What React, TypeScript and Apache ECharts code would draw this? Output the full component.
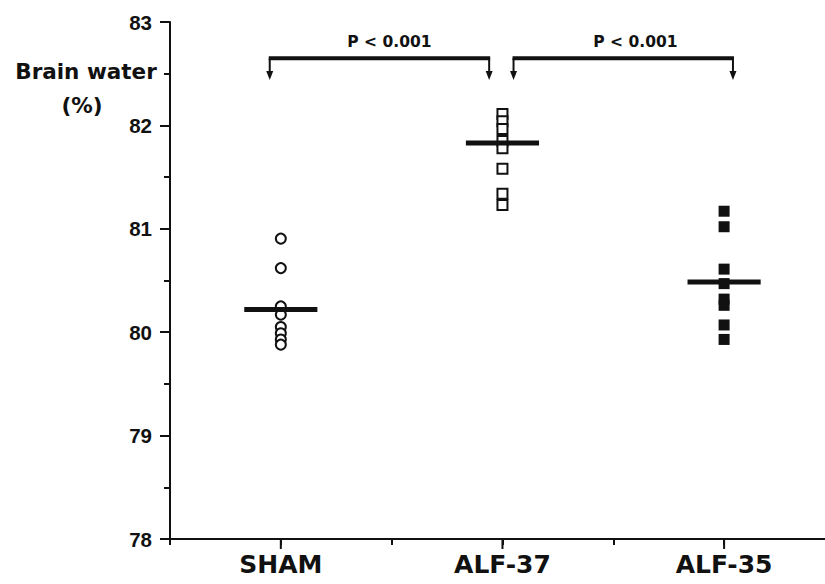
import React, { useEffect, useRef } from 'react';
import * as echarts from 'echarts';

const categories = ['SHAM', 'ALF-37', 'ALF-35'];
const shamValues = [80.905, 80.62, 80.25, 80.17, 80.05, 79.99, 79.93, 79.88];
const alf37Values = [82.11, 82.04, 81.965, 81.85, 81.78, 81.58, 81.34, 81.23];
const alf35Values = [81.17, 81.02, 80.61, 80.47, 80.32, 80.26, 80.07, 79.93];
const meanValues = [80.22, 81.83, 80.485];
const comparisons = [
  { from: 0.95, to: 1.94, labelAt: 1.49, label: 'P < 0.001' },
  { from: 2.05, to: 3.04, labelAt: 2.6, label: 'P < 0.001' },
];
const bracketY = 82.65;
const arrowTipY = 82.44;
const labelY = 82.81;

const INK = '#111';

export default function App() {
  const ref = useRef<HTMLDivElement>(null);
  useEffect(() => {
    if (!ref.current) return;
    const chart = echarts.init(ref.current, undefined, { renderer: 'svg' });
    const option: any = {
      animation: false,
      backgroundColor: '#fff',
      grid: { left: 170, right: -21, top: 22, bottom: 45, outerBoundsMode: 'none', containLabel: false },
      xAxis: {
        type: 'value',
        min: 0.5,
        max: 3.55,
        interval: 0.5,
        splitLine: { show: false },
        axisLine: { show: true, lineStyle: { color: INK, width: 2 } },
        axisTick: { show: true, length: 6, lineStyle: { color: INK, width: 2 } },
        axisLabel: {
          margin: 13,
          fontFamily: 'DejaVu Sans',
          fontWeight: 'bold',
          fontSize: 25,
          color: INK,
          formatter: (v: number) => (Number.isInteger(v) && v >= 1 && v <= 3 ? categories[v - 1] : ''),
        },
      },
      yAxis: {
        type: 'value',
        min: 78,
        max: 83,
        interval: 1,
        splitLine: { show: false },
        axisLine: { show: true, lineStyle: { color: INK, width: 2 } },
        axisTick: { show: true, length: 10, lineStyle: { color: INK, width: 2 } },
        minorTick: { show: true, splitNumber: 2, length: 6, lineStyle: { color: INK, width: 2 } },
        axisLabel: {
          margin: 18,
          fontFamily: 'Liberation Sans',
          fontWeight: 'bold',
          fontSize: 20.5,
          color: INK,
        },
      },
      graphic: [
        {
          type: 'text',
          x: 86,
          y: 71,
          style: { text: 'Brain water', fontFamily: 'DejaVu Sans', fontWeight: 'bold', fontSize: 21.5, fill: INK, textAlign: 'center', textVerticalAlign: 'middle' },
        },
        {
          type: 'text',
          x: 82,
          y: 105,
          style: { text: '(%)', fontFamily: 'DejaVu Sans', fontWeight: 'bold', fontSize: 21.5, fill: INK, textAlign: 'center', textVerticalAlign: 'middle' },
        },
      ],
      series: [
        {
          name: 'SHAM',
          type: 'scatter',
          symbol: 'circle',
          symbolSize: 10,
          itemStyle: { color: '#fff', borderColor: INK, borderWidth: 2, opacity: 1 },
          data: shamValues.map((v) => [1, v]),
          z: 3,
        },
        {
          name: 'ALF-37',
          type: 'scatter',
          symbol: 'rect',
          symbolSize: 10,
          itemStyle: { color: '#fff', borderColor: INK, borderWidth: 2, opacity: 1 },
          data: alf37Values.map((v) => [2, v]),
          z: 3,
        },
        {
          name: 'ALF-35',
          type: 'scatter',
          symbol: 'rect',
          symbolSize: 11,
          itemStyle: { color: INK, borderColor: INK, borderWidth: 0, opacity: 1 },
          data: alf35Values.map((v) => [3, v]),
          z: 3,
        },
        {
          name: 'means',
          type: 'custom',
          z: 4,
          clip: false,
          data: meanValues.map((v, i) => [i + 1, v]),
          renderItem: (params: any, api: any) => {
            const x = api.value(0);
            const y = api.value(1);
            const p1 = api.coord([x - 0.165, y]);
            const p2 = api.coord([x + 0.165, y]);
            return {
              type: 'rect',
              shape: { x: p1[0], y: p1[1] - 2.5, width: p2[0] - p1[0], height: 5 },
              style: { fill: INK },
            };
          },
        },
        {
          name: 'majorTicks',
          type: 'custom',
          z: 2,
          clip: false,
          data: categories.map((c, i) => [i + 1, 78]),
          renderItem: (params: any, api: any) => {
            const p = api.coord([api.value(0), api.value(1)]);
            return {
              type: 'line',
              shape: { x1: p[0], y1: p[1], x2: p[0], y2: p[1] + 10 },
              style: { stroke: INK, lineWidth: 2 },
            };
          },
        },
        {
          name: 'brackets',
          type: 'custom',
          z: 5,
          clip: false,
          data: comparisons.map((c) => [c.from, c.to, c.labelAt]),
          renderItem: (params: any, api: any) => {
            const c = comparisons[params.dataIndex];
            const a = api.coord([api.value(0), bracketY]);
            const b = api.coord([api.value(1), bracketY]);
            const ta = api.coord([api.value(0), arrowTipY]);
            const tb = api.coord([api.value(1), arrowTipY]);
            const lp = api.coord([api.value(2), labelY]);
            const head = (t: number[]) => ({
              type: 'polygon',
              shape: { points: [[t[0] - 3.5, t[1] - 9], [t[0] + 3.5, t[1] - 9], [t[0], t[1]]] },
              style: { fill: INK },
            });
            return {
              type: 'group',
              children: [
                { type: 'line', shape: { x1: a[0] - 1, y1: a[1], x2: b[0] + 1, y2: b[1] }, style: { stroke: INK, lineWidth: 4 } },
                { type: 'line', shape: { x1: a[0], y1: a[1], x2: ta[0], y2: ta[1] - 6 }, style: { stroke: INK, lineWidth: 2 } },
                { type: 'line', shape: { x1: b[0], y1: b[1], x2: tb[0], y2: tb[1] - 6 }, style: { stroke: INK, lineWidth: 2 } },
                head(ta),
                head(tb),
                {
                  type: 'text',
                  x: lp[0],
                  y: lp[1],
                  style: { text: c.label, fontFamily: 'DejaVu Sans', fontWeight: 'bold', fontSize: 15.5, fill: INK, textAlign: 'center', textVerticalAlign: 'middle' },
                },
              ],
            };
          },
        },
      ],
    };
    chart.setOption(option);
    return () => chart.dispose();
  }, []);
  return <div ref={ref} style={{ position: 'fixed', left: 0, top: 0, width: 825, height: 584, background: '#fff' }} />;
}
